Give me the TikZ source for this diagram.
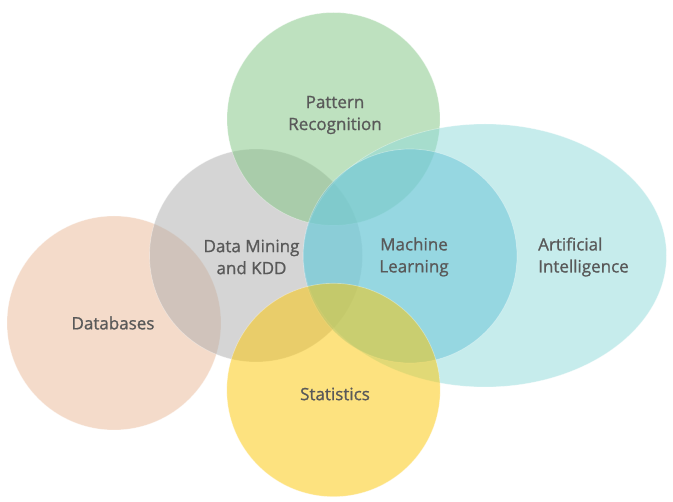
\documentclass[tikz,border=0pt]{standalone}
\usepackage{fontspec}
\setmainfont{Open Sans}
\newfontfamily\lblfont{Open Sans}[FakeBold=1]
\definecolor{dbcol}{RGB}{235,185,151}
\definecolor{dmcol}{RGB}{173,173,173}
\definecolor{prcol}{RGB}{127,197,129}
\definecolor{aicol}{RGB}{143,219,219}
\definecolor{mlcol}{RGB}{103,195,215}
\definecolor{stcol}{RGB}{253,199,1}
\definecolor{txtcol}{RGB}{89,89,89}
\begin{document}
\begin{tikzpicture}[x=1pt,y=-1pt,
  blob/.style={fill opacity=0.5, draw=white, draw opacity=0.35, line width=0.7pt},
  lbl/.style={text=txtcol, font=\lblfont\fontsize{17}{22}\selectfont, align=center, inner sep=0pt}]
\useasboundingbox (0,0) rectangle (673,502);
\fill[white] (0,0) rectangle (673,502);
\path[blob, fill=dbcol] (114,323) circle[radius=107];
\path[blob, fill=dmcol] (256,255.5) circle[radius=106.5];
\path[blob, fill=prcol] (333.5,119) circle[radius=106.5];
\path[blob, fill=aicol] (485,255.5) ellipse[x radius=181.5, y radius=131.5];
\path[blob, fill=mlcol] (410,256) circle[radius=107];
\path[blob, fill=stcol] (333.5,390) circle[radius=106.7];
\node[lbl] (pr) at (335,115) {Pattern\\Recognition};
\node[lbl] (dm) at (251.5,257) {Data Mining\\and KDD};
\node[lbl] (ml) at (414,257) {Machine\\Learning};
\node[lbl, align=left, anchor=west] (ai) at (538,257) {Artificial\\Intelligence};
\node[lbl] (st) at (335,394) {Statistics};
\node[lbl] (db) at (113,323) {Databases};
\end{tikzpicture}
\end{document}
